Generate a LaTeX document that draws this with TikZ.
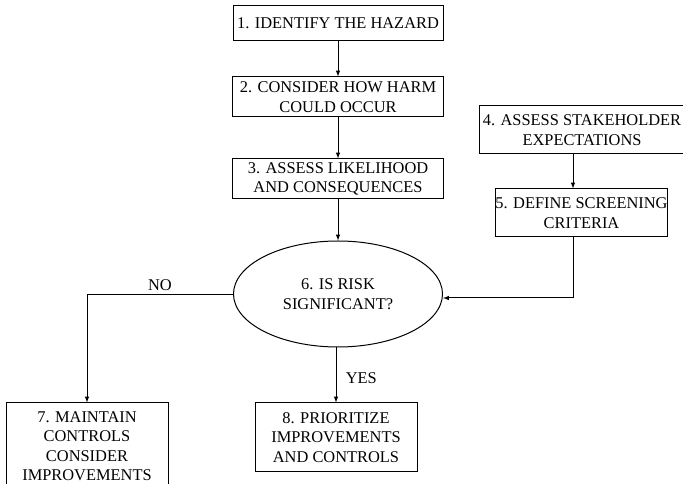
\documentclass[tikz,border=0pt]{standalone}
\usepackage{fontspec}
\setmainfont{Liberation Serif}
\usetikzlibrary{shapes.geometric,positioning}

\tikzset{
  stepbox/.style={draw, line width=1pt, align=center, inner sep=0pt,
    font=\fontsize{16.4}{19.5}\selectfont},
  decision/.style={draw, ellipse, line width=1pt, align=center, inner sep=0pt,
    font=\fontsize{16.4}{19.5}\selectfont},
  flow/.style={->, line width=1pt, >=latex}
}

\begin{document}
\begin{tikzpicture}[x=1pt, y=1pt]
    \useasboundingbox (0,0) rectangle (683,484);

    % Main column of steps
    \node[stepbox, minimum width=210, minimum height=35] (identify) at (338,460.5) {1. IDENTIFY THE HAZARD};
    \node[stepbox, minimum width=211, minimum height=40] (harm) at (338,387) {2. CONSIDER HOW HARM\\COULD OCCUR};
    \node[stepbox, minimum width=211, minimum height=40] (likelihood) at (338,305) {3. ASSESS LIKELIHOOD\\AND CONSEQUENCES};

    % The decision
    \node[decision, minimum width=209, minimum height=106] (risk) at (338,190) {6. IS RISK\\SIGNIFICANT?};

    % Side column feeding the decision
    \node[stepbox, minimum width=206, minimum height=48] (stakeholder) at (582,354) {4. ASSESS STAKEHOLDER\\EXPECTATIONS};
    \node[stepbox, minimum width=169, minimum height=48] (criteria) at (581.5,271) {5. DEFINE SCREENING\\CRITERIA};

    % Outcomes
    \node[stepbox, minimum width=162, minimum height=86] (maintain) at (87,38) {7. MAINTAIN\\CONTROLS\\CONSIDER\\IMPROVEMENTS};
    \node[stepbox, minimum width=162, minimum height=69] (prioritize) at (336,46.5) {8. PRIORITIZE\\IMPROVEMENTS\\AND CONTROLS};

    % Bends for the side lines
    \coordinate (nobend) at (87,189);
    \coordinate (critbend) at (573,186);

    % Arrows down the main column
    \draw[flow] (identify) -- (harm);
    \draw[flow] (harm) -- (likelihood);
    \draw[flow] (likelihood) -- (risk);
    \draw[flow] (stakeholder.south -| critbend) -- (criteria.north -| critbend);
    \draw[flow] (criteria.south -| critbend) -- (critbend) -- (risk.east |- critbend);

    % Branches out of the decision
    \draw[flow] (risk.west |- nobend) -- (nobend) node[pos=0.5, above=1pt, font=\fontsize{16.4}{19.5}\selectfont] {NO} -- (maintain.north);
    \draw[flow] (risk.south -| prioritize) -- (prioritize.north) node[pos=0.55, right=6pt, font=\fontsize{16.4}{19.5}\selectfont] {YES};
\end{tikzpicture}
\end{document}
